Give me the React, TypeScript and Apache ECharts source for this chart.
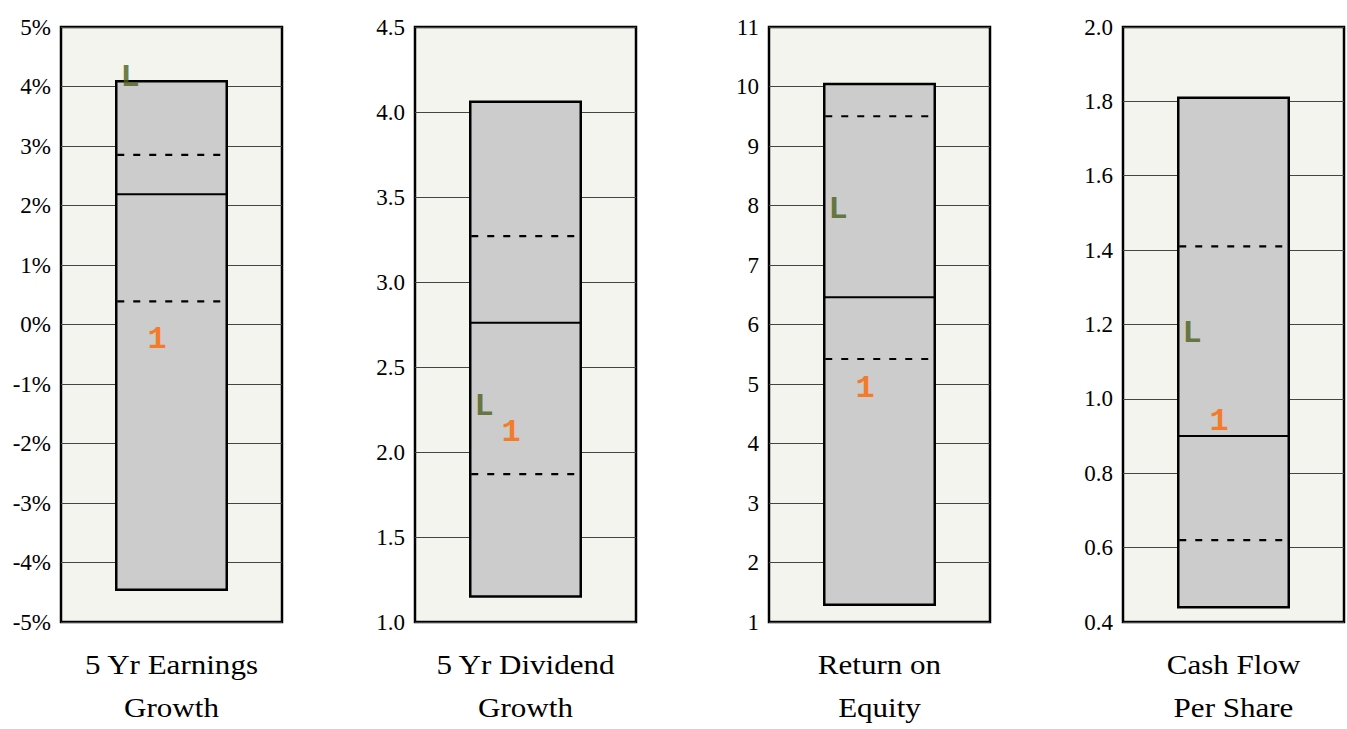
import React, { useEffect, useRef } from "react";
import * as echarts from "echarts";

const titles = ["5 Yr Earnings\nGrowth", "5 Yr Dividend\nGrowth", "Return on\nEquity", "Cash Flow\nPer Share"];
const yMins = [-5, 1, 1, 0.4];
const yMaxs = [5, 4.5, 11, 2.0];
const yIntervals = [1, 0.5, 1, 0.2];
const labelKinds = ["percent", "fixed1", "int", "fixed1"];

const lowValues = [-4.46, 1.15, 1.29, 0.44];
const q1Values = [0.39, 1.87, 5.42, 0.62];
const medianValues = [2.19, 2.76, 6.46, 0.9];
const q3Values = [2.85, 3.27, 9.5, 1.41];
const highValues = [4.09, 4.06, 10.04, 1.81];
const lMarkerValues = [4.15, 2.27, 7.94, 1.176];
const oneMarkerValues = [-0.26, 2.115, 4.92, 0.938];

const BOX_X0 = 1;
const BOX_X1 = 3;
const L_X = 1.25;
const ONE_X = 1.74;

const SERIF = "'Liberation Serif', 'Times New Roman', Times, serif";
const MONO = "'Liberation Mono', 'Courier New', Courier, monospace";

function fmt(kind: string) {
  return (v: number) => {
    if (kind === "percent") return `${Math.round(v)}%`;
    if (kind === "fixed1") return v.toFixed(1);
    return `${Math.round(v)}`;
  };
}

export default function App() {
  const ref = useRef<HTMLDivElement>(null);
  useEffect(() => {
    if (!ref.current) return;
    const chart = echarts.init(ref.current, null, { renderer: "svg" });
    const grids: any[] = [];
    const xAxes: any[] = [];
    const yAxes: any[] = [];
    const series: any[] = [];
    const graphics: any[] = [];
    for (let i = 0; i < 4; i++) {
      const left = 61 + 354 * i;
      grids.push({
        left,
        top: 27,
        width: 221,
        height: 595,
        show: true,
        backgroundColor: "#f4f4ef",
        borderColor: "#000",
        borderWidth: 2.5,
        z: 0,
      });
      xAxes.push({ gridIndex: i, type: "value", min: 0, max: 4, show: false });
      yAxes.push({
        gridIndex: i,
        type: "value",
        min: yMins[i],
        max: yMaxs[i],
        interval: yIntervals[i],
        axisLine: { show: false },
        axisTick: { show: false },
        splitLine: { show: true, lineStyle: { color: "#444", width: 1 } },
        axisLabel: {
          formatter: fmt(labelKinds[i]),
          color: "#000",
          fontFamily: SERIF,
          fontSize: 23,
          margin: 10,
        },
      });
      series.push({
        type: "custom",
        xAxisIndex: i,
        yAxisIndex: i,
        z: 3,
        data: [[lowValues[i], q1Values[i], medianValues[i], q3Values[i], highValues[i]]],
        renderItem: (params: any, api: any) => {
          const lo = api.value(0);
          const q1 = api.value(1);
          const med = api.value(2);
          const q3 = api.value(3);
          const hi = api.value(4);
          const [xl, yHi] = api.coord([BOX_X0, hi]);
          const [xr, yLo] = api.coord([BOX_X1, lo]);
          const yQ1 = api.coord([BOX_X0, q1])[1];
          const yQ3 = api.coord([BOX_X0, q3])[1];
          const yMed = api.coord([BOX_X0, med])[1];
          return {
            type: "group",
            children: [
              {
                type: "rect",
                shape: { x: xl, y: yHi, width: xr - xl, height: yLo - yHi },
                style: { fill: "#cccccc", stroke: "#000", lineWidth: 2.5 },
              },
              {
                type: "line",
                shape: { x1: xl, y1: yMed, x2: xr, y2: yMed },
                style: { stroke: "#000", lineWidth: 2 },
              },
              {
                type: "line",
                shape: { x1: xl + 1, y1: yQ1, x2: xr - 6, y2: yQ1 },
                style: { stroke: "#000", lineWidth: 2.2, lineDash: [7, 9] },
              },
              {
                type: "line",
                shape: { x1: xl + 1, y1: yQ3, x2: xr - 6, y2: yQ3 },
                style: { stroke: "#000", lineWidth: 2.2, lineDash: [7, 9] },
              },
            ],
          };
        },
      });
      series.push({
        type: "scatter",
        xAxisIndex: i,
        yAxisIndex: i,
        z: 5,
        symbolSize: 1,
        itemStyle: { color: "rgba(0,0,0,0)" },
        data: [[L_X, lMarkerValues[i]]],
        label: {
          show: true,
          position: "inside",
          formatter: "L",
          color: "#4a5e1a",
          fontFamily: MONO,
          fontWeight: "bold",
          fontSize: 32,
        },
      });
      series.push({
        type: "scatter",
        xAxisIndex: i,
        yAxisIndex: i,
        z: 5,
        symbolSize: 1,
        itemStyle: { color: "rgba(0,0,0,0)" },
        data: [[ONE_X, oneMarkerValues[i]]],
        label: {
          show: true,
          position: "inside",
          formatter: "1",
          color: "#ff6600",
          fontFamily: MONO,
          fontWeight: "bold",
          fontSize: 32,
        },
      });
      graphics.push({
        type: "text",
        x: left + 110.5,
        y: 643.5,
        scaleX: 1.15,
        style: {
          text: titles[i],
          align: "center",
          verticalAlign: "top",
          fontFamily: SERIF,
          fontSize: 27,
          lineHeight: 43,
          fill: "#000",
        },
      });
    }
    chart.setOption({
      animation: false,
      backgroundColor: "#fff",
      grid: grids,
      xAxis: xAxes,
      yAxis: yAxes,
      series,
      graphic: graphics,
    });
    return () => chart.dispose();
  }, []);
  return (
    <div
      ref={ref}
      style={{ position: "fixed", left: 0, top: 0, width: 1347, height: 729 }}
    />
  );
}
